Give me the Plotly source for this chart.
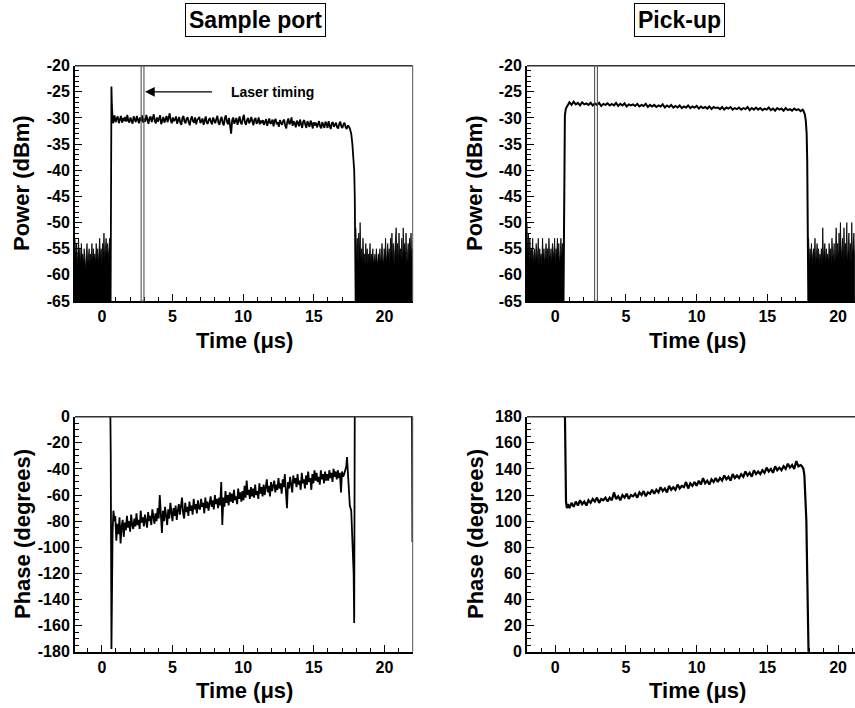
""" Power and phase of the pulse at the sample port and the pick-up. """

import numpy as np
import plotly.graph_objects as go

FONT = "Liberation Sans, Arial, Helvetica, sans-serif"

# laser timing window (us)
LASER_START = 2.78
LASER_END = 2.98

# ---- Sample port, power (dBm) ----
SP_PWR_PRE_T0 = -1.9
SP_PWR_PRE = [-53, -57, -54, -58, -56, -53, -57, -55, -58, -54, -57, -56, -58, -55, -57,
              -59, -56, -54, -58, -57, -55, -58, -56, -57, -54, -58, -55, -57, -56, -58,
              -54, -57, -55, -58, -56, -53, -57, -55, -58, -54, -56, -52, -57, -55, -53,
              -56, -54, -57, -55, -53, -56]
SP_PWR_RISE_T = [0.62, 0.66, 0.68, 0.71, 0.75, 0.80]
SP_PWR_RISE = [-65, -40, -24, -27.5, -29.5, -31.0]
SP_PWR_FLAT_T0 = 0.9
SP_PWR_FLAT = [-29.5, -30.8, -30.1, -29.7, -31.0, -30.3, -29.6, -30.9, -30.0, -30.6,
               -29.8, -30.7, -29.4, -30.5, -30.9, -29.9, -30.4, -31.1, -29.7, -30.3,
               -30.8, -29.6, -30.2, -31.0, -29.9, -30.6, -29.5, -30.9, -30.1, -30.7,
               -29.4, -30.5, -31.1, -30.0, -29.7, -30.8, -30.2, -29.3, -30.6, -31.0,
               -29.9, -30.7, -30.1, -29.5, -31.2, -30.4, -29.8, -30.9, -30.2, -29.6,
               -30.8, -30.0, -29.1, -30.5, -31.0, -29.9, -30.6, -30.3, -29.7, -31.1,
               -30.2, -29.8, -30.9, -31.3, -30.0, -29.6, -30.7, -31.0, -30.1, -29.9,
               -30.8, -31.4, -30.2, -29.7, -30.6, -30.9, -29.9, -31.2, -30.4, -30.0,
               -29.8, -31.0, -30.5, -30.1, -31.3, -30.2, -29.7, -30.9, -31.1, -30.3,
               -30.0, -30.8, -31.2, -29.9, -30.4, -31.0, -30.2, -29.6, -30.9, -31.3,
               -30.3, -29.8, -30.9, -31.4, -30.1, -29.5, -30.7, -31.2, -30.0, -32.0,
               -33.0, -30.4, -29.9, -31.1, -30.6, -30.0, -31.3, -30.5, -29.7, -30.9,
               -31.2, -30.1, -29.4, -30.8, -31.3, -30.4, -30.0, -31.0, -30.6, -29.8,
               -30.9, -31.4, -30.3, -30.0, -31.1, -30.7, -29.9, -31.2, -30.5, -31.0,
               -30.4, -31.3, -30.8, -30.2, -31.5, -30.6, -30.1, -31.1, -30.9, -30.3,
               -31.6, -30.5, -30.2, -31.2, -30.8, -31.7, -30.4, -30.9, -31.3, -30.6,
               -30.3, -31.4, -32.0, -30.7, -30.1, -31.2, -30.9, -29.9, -31.5, -30.6,
               -31.0, -31.8, -30.5, -30.9, -31.6, -30.3, -31.2, -31.9, -30.7, -30.4,
               -31.3, -31.9, -30.6, -31.1, -31.7, -30.5, -31.0, -32.0, -30.8, -31.4,
               -30.9, -31.8, -31.2, -30.6, -31.6, -32.0, -30.8, -31.3, -31.9, -30.7,
               -31.1, -31.9, -30.6, -31.5, -32.1, -31.0, -30.8, -31.7, -31.4, -30.9,
               -31.8, -32.0, -31.1, -30.7, -31.6, -31.9, -31.2, -30.9, -31.7, -32.1,
               -31.5]
SP_PWR_FALL_T = [17.45, 17.55, 17.65, 17.73, 17.80, 17.86, 17.90, 17.93, 17.96]
SP_PWR_FALL = [-31.5, -32.0, -33.0, -35.0, -37.5, -40.0, -45.0, -52.0, -65.0]
SP_PWR_POST_T0 = 17.98
SP_PWR_POST = [-51, -57, -53, -58, -52, -56, -50, -57, -55, -58, -53, -57, -56, -58, -54,
               -57, -55, -58, -56, -57, -54, -58, -56, -57, -55, -58, -57, -56, -58, -55,
               -57, -58, -56, -57, -55, -58, -56, -54, -57, -58, -55, -57, -53, -58, -56,
               -54, -57, -55, -58, -53, -56, -52, -57, -54, -58, -56, -55, -51, -57, -54,
               -58, -52, -56, -55, -57, -53, -58, -51, -56, -54, -57, -52, -58, -55, -54,
               -57, -53, -56, -52, -57, -55]

# ---- Pick-up, power (dBm) ----
PU_PWR_PRE_T0 = -2.0
PU_PWR_PRE = [-50, -57, -52, -58, -53, -56, -55, -57, -53, -58, -56, -55, -58, -54, -57,
              -56, -53, -58, -55, -57, -56, -58, -53, -57, -55, -58, -56, -54, -57, -55,
              -58, -53, -56, -57, -55, -58, -54, -56, -57, -53, -58, -55, -56, -53, -57,
              -54, -58, -56, -53, -57, -54, -56]
PU_PWR_RISE_T = [0.58, 0.61, 0.64, 0.68, 0.75, 0.85]
PU_PWR_RISE = [-65, -45, -33, -29.5, -28.2, -27.6]
PU_PWR_FLAT_T0 = 1.0
PU_PWR_FLAT = [-27.0, -27.5, -26.9, -27.4, -27.1, -27.6, -27.0, -27.4, -27.2, -27.5,
               -27.1, -27.6, -27.2, -27.5, -27.1, -27.7, -27.3, -27.5, -27.2, -27.6,
               -27.3, -27.6, -27.1, -27.7, -27.3, -27.6, -27.2, -27.8, -27.4, -27.6,
               -27.4, -27.7, -27.3, -27.8, -27.5, -27.7, -27.3, -27.9, -27.5, -27.8,
               -27.5, -27.9, -27.6, -27.8, -27.4, -28.0, -27.6, -27.9, -27.5, -28.0,
               -27.7, -28.0, -27.6, -28.1, -27.8, -28.0, -27.6, -28.1, -27.8, -28.0,
               -27.7, -28.2, -27.8, -28.1, -27.9, -28.2, -27.8, -28.3, -27.9, -28.1,
               -28.0, -28.3, -27.9, -28.4, -28.0, -28.2, -27.9, -28.4, -28.1, -28.3,
               -28.0, -28.4, -28.1, -28.3, -27.9, -28.5, -28.1, -28.4, -28.0, -28.4,
               -28.1, -28.5, -28.2, -28.4, -28.0, -28.5, -28.2, -28.6, -28.1, -28.4,
               -28.2, -28.6, -28.1, -28.5, -28.3, -28.6, -28.2, -28.5, -28.3, -28.7, -28.4]
PU_PWR_FALL_T = [17.55, 17.65, 17.72, 17.78, 17.82, 17.85, 17.88, 17.90]
PU_PWR_FALL = [-28.6, -29.3, -30.5, -33.0, -38.0, -45.0, -55.0, -65.0]
PU_PWR_POST_T0 = 17.92
PU_PWR_POST = [-53, -58, -55, -57, -54, -58, -56, -55, -57, -53, -58, -56, -54, -57, -55,
               -58, -56, -57, -55, -58, -51, -57, -56, -54, -58, -55, -57, -56, -58, -54,
               -57, -55, -58, -53, -56, -57, -54, -58, -55, -51, -57, -54, -58, -52, -56,
               -50, -57, -55, -53, -58, -51, -56, -54, -57, -50, -58, -55, -52, -57, -54,
               -58, -50, -56, -55, -52, -57]

# ---- Sample port, phase (degrees) ----
SP_PH_RISE_T = [0.60, 0.63, 0.68, 0.72, 0.76, 0.82, 0.90]
SP_PH_RISE = [5, -30, -178, -120, -88, -72, -80]
SP_PH_FLAT_T0 = 0.95
SP_PH_FLAT = [-76, -95, -82, -90, -77, -97, -84, -79, -92, -81,
              -87, -76, -85, -80, -88, -75, -83, -86, -78, -84,
              -74, -83, -79, -86, -72, -81, -77, -84, -75, -82,
              -85, -73, -80, -76, -83, -71, -79, -82, -74, -80,
              -70, -78, -60, -75, -89, -72, -80, -69, -77, -83,
              -71, -78, -66, -75, -80, -70, -76, -68, -79, -72,
              -67, -75, -70, -62, -74, -78, -66, -73, -69, -76,
              -65, -72, -68, -75, -63, -71, -67, -74, -64, -70,
              -71, -63, -69, -66, -74, -62, -70, -65, -72, -67,
              -61, -69, -64, -71, -60, -67, -63, -70, -62, -68,
              -50, -83, -62, -69, -57, -66, -60, -68, -58, -65,
              -59, -66, -56, -64, -61, -67, -55, -63, -58, -65,
              -57, -64, -53, -62, -49, -60, -56, -63, -54, -61,
              -55, -62, -52, -60, -57, -63, -51, -59, -54, -61,
              -52, -60, -55, -48, -58, -53, -61, -50, -57, -54,
              -49, -58, -52, -56, -47, -55, -51, -59, -48, -54,
              -44, -57, -70, -50, -55, -46, -53, -58, -45, -51,
              -47, -54, -44, -52, -49, -56, -43, -51, -48, -55,
              -45, -52, -42, -50, -47, -56, -44, -51, -41, -49,
              -43, -50, -46, -52, -41, -48, -44, -51, -42, -49,
              -44, -49, -41, -47, -43, -50, -40, -46, -42, -48,
              -41, -47, -43, -58, -42, -46, -44]
SP_PH_FALL_T = [17.30, 17.35, 17.45, 17.55, 17.65, 17.75, 17.82, 17.86, 17.90,
                21.95, 21.98]
SP_PH_FALL = [-38, -31, -50, -68, -72, -95, -120, -158, 5, 5, -96]

# ---- Pick-up, phase (degrees) ----
PU_PH_RISE_T = [0.68, 0.72, 0.76, 0.82, 0.90]
PU_PH_RISE = [185, 150, 115, 110, 113]
PU_PH_FLAT_T0 = 1.0
PU_PH_FLAT = [110, 114, 111, 115, 112, 116, 113, 115, 112, 116,
              114, 117, 115, 118, 114, 117, 116, 118, 115, 118,
              116, 122, 117, 119, 116, 120, 118, 121, 117, 120,
              119, 121, 118, 122, 120, 123, 119, 122, 121, 124,
              121, 124, 122, 126, 123, 125, 122, 127, 124, 126,
              124, 128, 125, 127, 126, 130, 125, 129, 127, 130,
              127, 131, 128, 133, 129, 131, 128, 132, 130, 133,
              130, 133, 131, 135, 132, 134, 131, 136, 133, 135,
              133, 136, 134, 138, 135, 137, 134, 139, 136, 138,
              136, 139, 137, 141, 138, 140, 137, 142, 139, 141,
              139, 142, 140, 144, 141, 143, 140, 146, 142, 143]
PU_PH_FALL_T = [17.45, 17.55, 17.62, 17.70, 17.76, 17.82, 17.88, 17.92]
PU_PH_FALL = [142, 140, 135, 120, 100, 60, 20, -5]

TIME_TICKS = [0, 5, 10, 15, 20]
POWER_TICKS = [-20, -25, -30, -35, -40, -45, -50, -55, -60, -65]
SP_PHASE_TICKS = [0, -20, -40, -60, -80, -100, -120, -140, -160, -180]
PU_PHASE_TICKS = [180, 160, 140, 120, 100, 80, 60, 40, 20, 0]

POWER_FLOOR = -65
STEP_NOISE = 0.05
STEP_FLAT = 0.15
STEP_FINE = 0.075

W, H = 855, 708


def px_x(x):
    return x / W


def px_y(y):
    return 1 - y / H


def times(t0, step, values):
    return np.round(t0 + step * np.arange(len(values)), 3)


def noise_trace(t0, values, axes):
    """Scope noise below the pulse, filled down to the bottom of the axis."""
    t = list(times(t0, STEP_NOISE, values))
    x = t + [t[-1], t[0]]
    y = list(values) + [POWER_FLOOR - 1, POWER_FLOOR - 1]
    return go.Scatter(x=x, y=y, mode="lines", fill="toself", fillcolor="black",
                      line=dict(color="black", width=0.8), hoverinfo="skip",
                      xaxis=axes[0], yaxis=axes[1], showlegend=False)


def pulse_trace(rise_t, rise, flat_t0, flat, fall_t, fall, axes, width=1.0, step=STEP_FLAT):
    x = list(rise_t) + list(times(flat_t0, step, flat)) + list(fall_t)
    y = list(rise) + list(flat) + list(fall)
    return go.Scatter(x=x, y=y, mode="lines", line=dict(color="black", width=width),
                      xaxis=axes[0], yaxis=axes[1], showlegend=False)


fig = go.Figure()

fig.add_trace(noise_trace(SP_PWR_PRE_T0, SP_PWR_PRE, ("x", "y")))
fig.add_trace(noise_trace(SP_PWR_POST_T0, SP_PWR_POST, ("x", "y")))
fig.add_trace(pulse_trace(SP_PWR_RISE_T, SP_PWR_RISE, SP_PWR_FLAT_T0, SP_PWR_FLAT,
                          SP_PWR_FALL_T, SP_PWR_FALL, ("x", "y"), 1.8, STEP_FINE))

fig.add_trace(noise_trace(PU_PWR_PRE_T0, PU_PWR_PRE, ("x2", "y2")))
fig.add_trace(noise_trace(PU_PWR_POST_T0, PU_PWR_POST, ("x2", "y2")))
fig.add_trace(pulse_trace(PU_PWR_RISE_T, PU_PWR_RISE, PU_PWR_FLAT_T0, PU_PWR_FLAT,
                          PU_PWR_FALL_T, PU_PWR_FALL, ("x2", "y2"), 2.0))

fig.add_trace(pulse_trace(SP_PH_RISE_T, SP_PH_RISE, SP_PH_FLAT_T0, SP_PH_FLAT,
                          SP_PH_FALL_T, SP_PH_FALL, ("x3", "y3"), 1.8, STEP_FINE))
fig.add_trace(pulse_trace(PU_PH_RISE_T, PU_PH_RISE, PU_PH_FLAT_T0, PU_PH_FLAT,
                          PU_PH_FALL_T, PU_PH_FALL, ("x4", "y4"), 2.2))

tick_font = dict(family=FONT, size=16, color="black", weight="bold")
title_font = dict(family=FONT, size=22, color="black", weight="bold")

LEFT = [px_x(75), px_x(412.7)]
RIGHT = [px_x(527), 1.0]
TOP = [px_y(301), px_y(65.7)]
BOTTOM = [px_y(651.7), px_y(416.7)]


def xaxis(domain, anchor, rng):
    return dict(domain=domain, anchor=anchor, range=rng, showgrid=False, zeroline=False,
                automargin=False, showline=True, linecolor="black", linewidth=2,
                ticks="inside", ticklen=7, tickwidth=1.2, tickcolor="black",
                tickvals=TIME_TICKS, ticktext=[str(v) for v in TIME_TICKS],
                tickfont=tick_font,
                minor=dict(ticks="inside", ticklen=4, tickwidth=1, tickcolor="black",
                           tick0=0, dtick=1))


def yaxis(domain, anchor, rng, ticks, minor):
    return dict(domain=domain, anchor=anchor, range=rng, showgrid=False, zeroline=False,
                automargin=False, showline=True, linecolor="black", linewidth=2,
                ticks="inside", ticklen=7, tickwidth=1.2, tickcolor="black",
                tickvals=ticks, ticktext=[str(v) for v in ticks], tickfont=tick_font,
                minor=dict(ticks="inside", ticklen=4, tickwidth=1, tickcolor="black",
                           tick0=0, dtick=minor))


fig.update_layout(
    width=W, height=H,
    margin=dict(l=0, r=0, t=0, b=0),
    paper_bgcolor="white", plot_bgcolor="white",
    font=dict(family=FONT, color="black"),
    xaxis=xaxis(LEFT, "y", [-1.9, 22]),
    yaxis=yaxis(TOP, "x", [-65, -20], POWER_TICKS, 1),
    xaxis2=xaxis(RIGHT, "y2", [-2, 21.2]),
    yaxis2=yaxis(TOP, "x2", [-65, -20], POWER_TICKS, 1),
    xaxis3=xaxis(LEFT, "y3", [-1.9, 22]),
    yaxis3=yaxis(BOTTOM, "x3", [-180, 0], SP_PHASE_TICKS, 5),
    xaxis4=xaxis(RIGHT, "y4", [-2, 21.2]),
    yaxis4=yaxis(BOTTOM, "x4", [0, 180], PU_PHASE_TICKS, 5),
)

# frame: top edge on all panels; the right-hand panels run off the page edge
for xa, ya, right in [("x", "y", True), ("x2", "y2", False),
                      ("x3", "y3", True), ("x4", "y4", False)]:
    fig.add_shape(type="line", xref=f"{xa} domain", yref=f"{ya} domain",
                  x0=0, x1=1, y0=1, y1=1, line=dict(color="#333", width=1.5))
    if right:
        fig.add_shape(type="line", xref=f"{xa} domain", yref=f"{ya} domain",
                      x0=1, x1=1, y0=0, y1=1, line=dict(color="#555", width=1))

# laser timing window on the power plots
for xa, ya in [("x", "y"), ("x2", "y2")]:
    fig.add_shape(type="rect", xref=xa, yref=f"{ya} domain",
                  x0=LASER_START, x1=LASER_END, y0=0, y1=1,
                  line=dict(color="#555", width=1.1), fillcolor="rgba(0,0,0,0)")

fig.add_annotation(x=LASER_END + 0.08, y=-25, xref="x", yref="y",
                   ax=7.9, ay=-25, axref="x", ayref="y", text="",
                   showarrow=True, arrowhead=2, arrowsize=1.6, arrowwidth=1.2,
                   arrowcolor="black")
fig.add_annotation(x=9.0, y=-25, xref="x", yref="y", text="Laser timing",
                   showarrow=False, xanchor="left", yanchor="middle",
                   font=dict(family=FONT, size=14, color="black", weight="bold"))

# panel headings
for label, cx, cy in [("Sample port", 255, 20.5), ("Pick-up", 679, 20)]:
    fig.add_annotation(x=px_x(cx), y=px_y(cy), xref="paper", yref="paper", text=label,
                       showarrow=False, xanchor="center", yanchor="middle",
                       bordercolor="black", borderwidth=1, borderpad=3, bgcolor="white",
                       font=dict(family=FONT, size=23, color="black", weight="bold"))

# axis titles at fixed positions
for text, cx, cy in [("Time (μs)", 244, 340), ("Time (μs)", 697, 340),
                     ("Time (μs)", 244, 690), ("Time (μs)", 697, 690)]:
    fig.add_annotation(x=px_x(cx), y=px_y(cy), xref="paper", yref="paper", text=text,
                       showarrow=False, xanchor="center", yanchor="middle",
                       font=title_font)
for text, cx, cy in [("Power (dBm)", 22, 183), ("Power (dBm)", 475, 183),
                     ("Phase (degrees)", 22, 534), ("Phase (degrees)", 475, 534)]:
    fig.add_annotation(x=px_x(cx), y=px_y(cy), xref="paper", yref="paper", text=text,
                       showarrow=False, xanchor="center", yanchor="middle",
                       textangle=-90, font=title_font)

# the page is exactly the figure: drop the browser's default body margin
fig.write_html("out.html", config={"displayModeBar": False},
               post_script="document.body.style.margin = '0';")
